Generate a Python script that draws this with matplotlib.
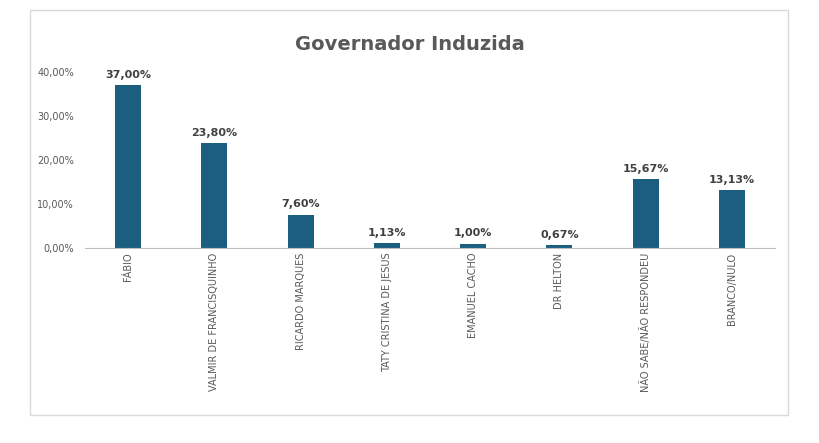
import matplotlib
matplotlib.use("Agg")
import matplotlib.pyplot as plt
from matplotlib.patches import Rectangle

categories = ["FÁBIO", "VALMIR DE FRANCISQUINHO", "RICARDO MARQUES", "TATY CRISTINA DE JESUS",
              "EMANUEL CACHO", "DR HELTON", "NÃO SABE/NÃO RESPONDEU", "BRANCO/NULO"]
values = [37.00, 23.80, 7.60, 1.13, 1.00, 0.67, 15.67, 13.13]
yticks = [0, 10, 20, 30, 40]

fig = plt.figure(figsize=(8.19, 4.43), dpi=100)
fig.patches.append(Rectangle((30/819, 1-415/443), 758/819, 405/443, transform=fig.transFigure,
                             fill=False, edgecolor="#d9d9d9", linewidth=1))
ax = fig.add_axes([85/819, 1-248/443, 690/819, 176/443])
x = range(len(categories))
ax.bar(x, values, width=0.3, color="#1b5e80")
for i, v in zip(x, values):
    ax.text(i, v + 1.2, f"{v:.2f}%".replace(".", ","), ha="center", va="bottom",
            fontsize=8, fontweight="bold", color="#404040")
ax.set_xlim(-0.5, len(categories) - 0.5)
ax.set_ylim(0, 40)
ax.set_yticks(yticks)
ax.set_yticklabels([f"{t:.2f}%".replace(".", ",") for t in yticks], fontsize=7, color="#595959")
ax.set_xticks(list(x))
ax.set_xticklabels(categories, rotation=90, fontsize=7, color="#595959")
for s in ["top", "right", "left"]:
    ax.spines[s].set_visible(False)
ax.spines["bottom"].set_color("#bfbfbf")
ax.tick_params(axis="both", length=0)
ax.tick_params(axis="y", pad=8)
fig.text(410/819, 1-45/443, "Governador Induzida", ha="center", va="center",
         fontsize=14, fontweight="bold", color="#595959")
fig.savefig("out.png", dpi=100)
